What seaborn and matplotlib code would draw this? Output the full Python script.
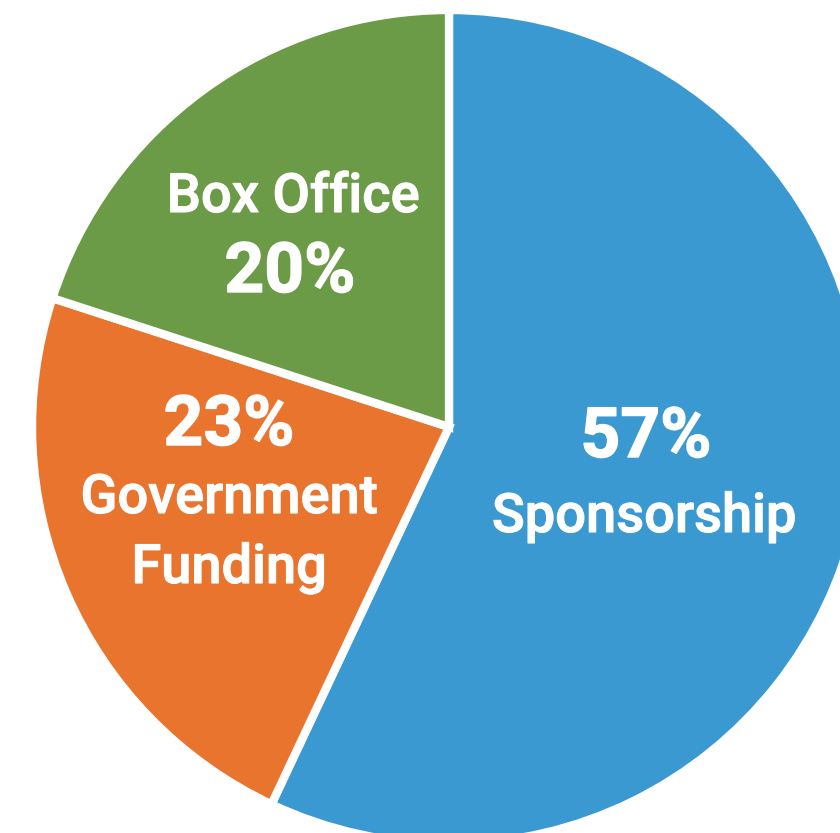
import matplotlib
matplotlib.use("Agg")
import matplotlib.pyplot as plt
import matplotlib.patheffects as pe
import seaborn as sns

# Revenue sources
categories = ["Sponsorship", "Government\nFunding", "Box Office"]
shares = [57, 23, 20]
colors = ["#3A99D0", "#E8742E", "#6B9B46"]

sns.set_theme(style="white")
plt.rcParams["font.family"] = ["Roboto", "Liberation Sans", "DejaVu Sans"]

W, H, DPI = 840, 833, 100
fig = plt.figure(figsize=(W / DPI, H / DPI), dpi=DPI)
ax = fig.add_axes([0, 0, 1, 1])

# pie centre and radius in pixels
cx, cy, R = 449, 427, 417

ax.pie(shares, colors=colors, startangle=90, counterclock=False,
       radius=1.0, wedgeprops=dict(edgecolor="white", linewidth=6))

ax.set_xlim(-cx / R, (W - cx) / R)
ax.set_ylim(-(H - cy) / R, cy / R)
ax.set_aspect("auto")
ax.axis("off")

# slightly heavier strokes for the text
heavy = [pe.withStroke(linewidth=0.8, foreground="white")]
heavier = [pe.withStroke(linewidth=1.0, foreground="white")]


def put(text, px, py, size, weight="bold", effects=None):
    ax.text((px - cx) / R, (cy - py) / R, text, ha="center", va="baseline",
            color="white", fontsize=size, fontweight=weight,
            path_effects=effects)


pct = {c: f"{v}%" for c, v in zip(categories, shares)}
LBL, PCT = 39, 50

# Sponsorship
put(pct["Sponsorship"], 646, 457, PCT, "bold", heavier)
put("Sponsorship", 644, 532, LBL, "medium", heavy)
# Government Funding
put(pct["Government\nFunding"], 229, 445, PCT, "bold", heavier)
put("Government", 229, 513, LBL, "medium", heavy)
put("Funding", 229, 583, LBL, "medium", heavy)
# Box Office
put("Box Office", 293, 212, LBL, "medium", heavy)
put(pct["Box Office"], 290, 292, PCT, "bold", heavier)

fig.savefig("out.png", dpi=DPI, facecolor="white")
